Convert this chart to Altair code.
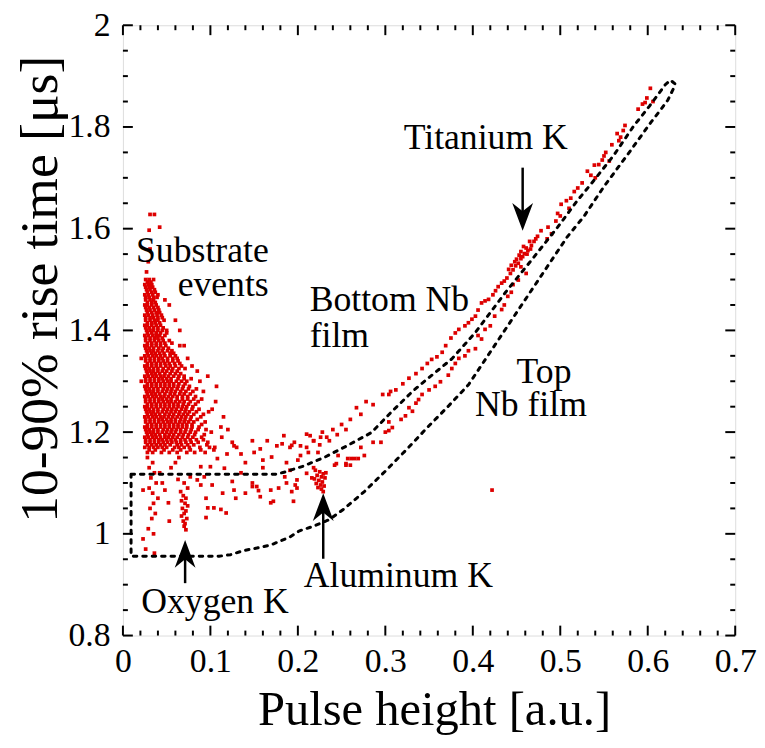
import altair as alt
import pandas as pd

FONT = "Liberation Serif"
RED = "#dd0000"

# ---------------- data ----------------
# dense substrate-event cluster: one row of pulse heights for each rise-time level
sub_rows_y = [1.50, 1.49, 1.48, 1.47, 1.46, 1.45, 1.44, 1.43, 1.42, 1.41, 1.40, 1.39,
              1.38, 1.37, 1.36, 1.35, 1.34, 1.33, 1.32, 1.31, 1.30, 1.29, 1.28, 1.27,
              1.26, 1.25, 1.24, 1.23, 1.22, 1.21, 1.20, 1.19, 1.18, 1.17, 1.16]
sub_rows_x = [
    [0.026, 0.030, 0.035],
    [0.025, 0.029, 0.033],
    [0.027, 0.031, 0.036],
    [0.025, 0.029, 0.034, 0.040],
    [0.026, 0.031, 0.035],
    [0.025, 0.028, 0.033, 0.038],
    [0.027, 0.031, 0.036, 0.041],
    [0.025, 0.029, 0.034, 0.039, 0.044],
    [0.026, 0.031, 0.036, 0.040, 0.047],
    [0.025, 0.028, 0.033, 0.038, 0.043],
    [0.027, 0.031, 0.035, 0.040, 0.045, 0.050],
    [0.025, 0.029, 0.034, 0.038, 0.042, 0.048],
    [0.026, 0.031, 0.036, 0.041, 0.046, 0.053],
    [0.025, 0.028, 0.033, 0.038, 0.043, 0.049, 0.065],
    [0.027, 0.031, 0.035, 0.040, 0.045, 0.051, 0.056],
    [0.025, 0.029, 0.034, 0.038, 0.043, 0.048, 0.054, 0.060],
    [0.026, 0.031, 0.036, 0.041, 0.046, 0.051, 0.057, 0.063],
    [0.025, 0.028, 0.033, 0.038, 0.043, 0.049, 0.054, 0.060, 0.067],
    [0.027, 0.031, 0.035, 0.040, 0.045, 0.050, 0.056, 0.062, 0.085],
    [0.025, 0.029, 0.034, 0.038, 0.043, 0.047, 0.052, 0.058, 0.064, 0.070, 0.097],
    [0.026, 0.031, 0.036, 0.041, 0.046, 0.051, 0.055, 0.061, 0.067, 0.073],
    [0.025, 0.028, 0.033, 0.038, 0.043, 0.048, 0.053, 0.058, 0.063, 0.069, 0.076],
    [0.027, 0.031, 0.035, 0.040, 0.045, 0.050, 0.055, 0.060, 0.066, 0.072, 0.080, 0.092],
    [0.025, 0.029, 0.034, 0.038, 0.043, 0.047, 0.052, 0.057, 0.062, 0.068, 0.074, 0.083],
    [0.026, 0.031, 0.036, 0.041, 0.046, 0.051, 0.055, 0.060, 0.065, 0.070, 0.077, 0.086, 0.106],
    [0.025, 0.028, 0.033, 0.038, 0.043, 0.048, 0.053, 0.058, 0.063, 0.068, 0.073, 0.080],
    [0.027, 0.031, 0.035, 0.040, 0.045, 0.050, 0.055, 0.060, 0.065, 0.071, 0.076, 0.084, 0.098],
    [0.025, 0.029, 0.034, 0.038, 0.043, 0.047, 0.052, 0.057, 0.062, 0.067, 0.072, 0.078, 0.089],
    [0.026, 0.031, 0.036, 0.041, 0.046, 0.051, 0.055, 0.060, 0.065, 0.070, 0.075, 0.081, 0.094],
    [0.025, 0.028, 0.033, 0.038, 0.043, 0.048, 0.053, 0.058, 0.063, 0.068, 0.073, 0.079, 0.087, 0.112],
    [0.027, 0.031, 0.035, 0.040, 0.045, 0.050, 0.055, 0.060, 0.066, 0.071, 0.077, 0.083, 0.101],
    [0.025, 0.029, 0.034, 0.038, 0.043, 0.048, 0.052, 0.057, 0.062, 0.068, 0.074, 0.080, 0.090],
    [0.026, 0.031, 0.036, 0.041, 0.046, 0.051, 0.056, 0.061, 0.066, 0.072, 0.078, 0.086, 0.097],
    [0.025, 0.030, 0.035, 0.040, 0.045, 0.050, 0.059, 0.064, 0.070, 0.076, 0.088, 0.105],
    [0.028, 0.034, 0.044, 0.053, 0.062, 0.073, 0.082, 0.094],
]
# in-between rows of the same cluster
sub_mid_y = [1.495, 1.485, 1.475, 1.465, 1.455, 1.445, 1.435, 1.425, 1.415, 1.405,
             1.395, 1.385, 1.375, 1.365, 1.355, 1.345, 1.335, 1.325, 1.315, 1.305,
             1.295, 1.285, 1.275, 1.265, 1.255, 1.245, 1.235, 1.225, 1.215, 1.205,
             1.195, 1.185, 1.175, 1.165]
sub_mid_x = [
    [0.028, 0.032],
    [0.026, 0.030, 0.034],
    [0.028, 0.033, 0.037],
    [0.026, 0.030, 0.035, 0.039],
    [0.028, 0.033, 0.037],
    [0.026, 0.030, 0.035, 0.040],
    [0.028, 0.033, 0.038, 0.042],
    [0.026, 0.031, 0.035, 0.040, 0.045],
    [0.028, 0.033, 0.037, 0.042],
    [0.026, 0.030, 0.035, 0.040, 0.046],
    [0.028, 0.033, 0.038, 0.043, 0.050],
    [0.026, 0.031, 0.036, 0.040, 0.045],
    [0.028, 0.033, 0.038, 0.043, 0.048, 0.056],
    [0.026, 0.030, 0.035, 0.041, 0.046, 0.052],
    [0.028, 0.033, 0.037, 0.042, 0.047, 0.054, 0.058],
    [0.026, 0.031, 0.036, 0.041, 0.045, 0.051, 0.057, 0.062],
    [0.028, 0.033, 0.038, 0.043, 0.048, 0.053, 0.059, 0.065],
    [0.026, 0.030, 0.035, 0.040, 0.046, 0.052, 0.057, 0.064, 0.071],
    [0.028, 0.033, 0.037, 0.042, 0.048, 0.054, 0.060, 0.066],
    [0.026, 0.031, 0.036, 0.041, 0.045, 0.050, 0.055, 0.063, 0.070, 0.078],
    [0.028, 0.033, 0.038, 0.043, 0.048, 0.053, 0.058, 0.064, 0.071],
    [0.026, 0.030, 0.035, 0.040, 0.046, 0.051, 0.056, 0.062, 0.068, 0.075, 0.084],
    [0.028, 0.033, 0.037, 0.042, 0.048, 0.054, 0.059, 0.065, 0.070, 0.077],
    [0.026, 0.031, 0.036, 0.041, 0.045, 0.050, 0.055, 0.062, 0.068, 0.074, 0.081, 0.090],
    [0.028, 0.033, 0.038, 0.043, 0.048, 0.053, 0.058, 0.063, 0.069, 0.075, 0.083],
    [0.026, 0.030, 0.035, 0.040, 0.046, 0.051, 0.056, 0.061, 0.067, 0.072, 0.079, 0.087],
    [0.028, 0.033, 0.037, 0.042, 0.048, 0.053, 0.058, 0.064, 0.069, 0.074, 0.081, 0.092],
    [0.026, 0.031, 0.036, 0.041, 0.045, 0.050, 0.055, 0.060, 0.066, 0.071, 0.077, 0.085],
    [0.028, 0.033, 0.038, 0.043, 0.048, 0.053, 0.058, 0.063, 0.068, 0.073, 0.079, 0.090],
    [0.026, 0.030, 0.035, 0.040, 0.046, 0.051, 0.056, 0.061, 0.066, 0.072, 0.078, 0.086, 0.095],
    [0.028, 0.033, 0.037, 0.042, 0.048, 0.053, 0.058, 0.064, 0.069, 0.075, 0.082, 0.093],
    [0.026, 0.031, 0.036, 0.041, 0.045, 0.050, 0.055, 0.060, 0.066, 0.071, 0.077, 0.084, 0.092],
    [0.028, 0.033, 0.038, 0.043, 0.048, 0.054, 0.062, 0.067, 0.074, 0.081, 0.096],
    [0.030, 0.037, 0.047, 0.057, 0.066, 0.077, 0.089],
]

# sparse substrate events around the cluster
sub_sparse = [
    (0.031, 1.628), (0.036, 1.628), (0.030, 1.597), (0.042, 1.603), (0.027, 1.515),
    (0.029, 1.535), (0.031, 1.560), (0.048, 1.460), (0.053, 1.450), (0.060, 1.420),
    (0.065, 1.400), (0.070, 1.370), (0.074, 1.345), (0.079, 1.330), (0.088, 1.300),
    (0.107, 1.290), (0.102, 1.245), (0.115, 1.230), (0.120, 1.205), (0.125, 1.180),
    (0.130, 1.170), (0.021, 1.345), (0.021, 1.300),
]

# low-rise-time events (inside the dashed box and the horizontal tail)
low_pts = [
    (0.028, 1.150), (0.034, 1.140), (0.030, 1.130), (0.036, 1.120), (0.032, 1.110),
    (0.038, 1.100), (0.030, 1.090), (0.034, 1.080), (0.040, 1.070), (0.035, 1.060),
    (0.031, 1.050), (0.037, 1.040), (0.033, 1.030), (0.029, 1.010), (0.035, 1.000),
    (0.023, 0.990), (0.026, 0.970), (0.036, 0.962), (0.023, 1.086), (0.042, 1.120),
    (0.045, 1.100), (0.048, 1.086), (0.052, 1.061), (0.053, 1.025), (0.055, 1.130),
    (0.060, 1.140), (0.064, 1.150),
    (0.182, 1.177), (0.193, 1.174), (0.210, 1.170), (0.212, 1.160), (0.203, 1.154),
    (0.218, 1.183), (0.214, 1.193), (0.223, 1.160), (0.226, 1.190), (0.127, 1.173),
    (0.135, 1.157), (0.148, 1.183), (0.150, 1.160), (0.157, 1.167), (0.165, 1.183),
    (0.170, 1.151), (0.176, 1.173), (0.184, 1.193), (0.191, 1.170), (0.196, 1.180),
    (0.203, 1.173), (0.210, 1.196), (0.119, 1.157), (0.108, 1.148), (0.104, 1.165),
    (0.099, 1.170), (0.113, 1.190), (0.140, 1.140), (0.160, 1.145), (0.187, 1.140),
    (0.200, 1.145), (0.242, 1.135), (0.255, 1.138),
    (0.089, 1.132), (0.093, 1.112), (0.100, 1.132), (0.116, 1.129), (0.125, 1.103),
    (0.148, 1.093), (0.155, 1.085), (0.169, 1.086), (0.172, 1.064), (0.185, 1.112),
    (0.187, 1.100), (0.197, 1.096), (0.199, 1.090), (0.085, 1.106), (0.089, 1.096),
    (0.095, 1.070), (0.097, 1.051), (0.095, 1.032), (0.104, 1.051), (0.112, 1.048),
    (0.118, 1.041), (0.114, 1.080), (0.102, 1.096), (0.127, 1.086), (0.129, 1.070),
    (0.140, 1.080), (0.148, 1.100), (0.153, 1.093), (0.157, 1.073), (0.169, 1.061),
    (0.178, 1.090), (0.193, 1.083), (0.199, 1.106), (0.191, 1.125), (0.210, 1.119),
    (0.216, 1.110), (0.195, 1.064), (0.135, 1.120), (0.160, 1.130), (0.422, 1.086),
]

oxygen_pts = [
    (0.069, 1.075), (0.072, 1.070), (0.067, 1.065), (0.071, 1.060), (0.074, 1.055),
    (0.068, 1.050), (0.072, 1.045), (0.070, 1.040), (0.067, 1.035), (0.073, 1.030),
    (0.069, 1.025), (0.071, 1.020), (0.070, 1.015), (0.072, 1.008), (0.066, 1.083),
    (0.074, 1.090), (0.070, 1.100), (0.077, 1.112), (0.063, 1.107),
]

aluminum_pts = [
    (0.220, 1.125), (0.225, 1.122), (0.229, 1.118), (0.222, 1.115), (0.227, 1.112),
    (0.231, 1.110), (0.219, 1.108), (0.224, 1.105), (0.228, 1.102), (0.221, 1.099),
    (0.226, 1.096), (0.230, 1.094), (0.223, 1.091), (0.227, 1.088), (0.229, 1.083),
    (0.218, 1.130), (0.232, 1.120),
]

bottom_nb_pts = [
    (0.603, 1.876), (0.599, 1.857), (0.597, 1.848), (0.606, 1.850), (0.594, 1.845),
    (0.589, 1.835), (0.574, 1.803), (0.572, 1.793), (0.565, 1.787), (0.569, 1.780),
    (0.567, 1.773), (0.559, 1.765), (0.552, 1.750), (0.550, 1.743), (0.548, 1.735),
    (0.556, 1.733), (0.544, 1.726), (0.539, 1.725), (0.531, 1.713), (0.535, 1.705),
    (0.525, 1.690), (0.520, 1.680), (0.516, 1.673), (0.512, 1.660), (0.507, 1.655),
    (0.501, 1.648), (0.497, 1.630), (0.495, 1.615), (0.486, 1.603), (0.478, 1.596),
    (0.474, 1.585), (0.467, 1.567), (0.465, 1.575), (0.463, 1.557), (0.461, 1.562),
    (0.459, 1.551), (0.457, 1.545), (0.455, 1.541), (0.453, 1.548), (0.452, 1.532),
    (0.449, 1.527), (0.446, 1.519), (0.443, 1.512), (0.439, 1.503), (0.436, 1.497),
    (0.433, 1.493), (0.429, 1.486), (0.426, 1.478), (0.423, 1.470), (0.418, 1.461),
    (0.414, 1.458), (0.410, 1.454), (0.406, 1.440), (0.403, 1.428), (0.399, 1.422),
    (0.395, 1.415), (0.391, 1.409), (0.384, 1.402), (0.380, 1.395), (0.375, 1.385),
    (0.369, 1.370), (0.365, 1.357), (0.359, 1.348), (0.353, 1.343), (0.348, 1.335),
    (0.342, 1.325), (0.335, 1.315), (0.327, 1.306), (0.320, 1.295), (0.312, 1.283),
    (0.304, 1.274), (0.297, 1.274), (0.306, 1.280), (0.286, 1.254), (0.278, 1.260),
    (0.267, 1.248), (0.272, 1.235), (0.260, 1.225), (0.250, 1.215), (0.255, 1.205),
    (0.240, 1.205), (0.245, 1.195), (0.233, 1.190), (0.236, 1.183), (0.228, 1.200),
    (0.218, 1.183), (0.225, 1.175), (0.458, 1.565), (0.462, 1.550), (0.466, 1.560),
    (0.455, 1.555), (0.450, 1.540), (0.448, 1.535), (0.444, 1.528), (0.441, 1.520),
    (0.470, 1.575), (0.472, 1.580),
]

top_nb_pts = [
    (0.540, 1.700), (0.510, 1.640), (0.500, 1.625), (0.490, 1.590), (0.485, 1.580),
    (0.461, 1.512), (0.455, 1.525), (0.452, 1.499), (0.446, 1.490), (0.440, 1.467),
    (0.444, 1.475), (0.433, 1.441), (0.436, 1.450), (0.425, 1.428), (0.420, 1.409),
    (0.414, 1.402), (0.410, 1.383), (0.406, 1.390), (0.403, 1.364), (0.395, 1.360),
    (0.391, 1.350), (0.384, 1.345), (0.380, 1.335), (0.376, 1.325), (0.372, 1.312),
    (0.363, 1.299), (0.357, 1.290), (0.350, 1.283), (0.342, 1.274), (0.335, 1.257),
    (0.338, 1.264), (0.331, 1.241), (0.327, 1.248), (0.323, 1.232), (0.318, 1.225),
    (0.308, 1.209), (0.304, 1.203), (0.304, 1.220), (0.300, 1.200), (0.295, 1.180),
    (0.286, 1.180), (0.276, 1.154), (0.272, 1.170), (0.269, 1.148), (0.265, 1.148),
    (0.261, 1.148), (0.257, 1.148), (0.255, 1.135), (0.246, 1.154), (0.244, 1.138),
    (0.260, 1.135),
]

# dashed selection contour (closed loop)
loop_x = [0.0093, 0.174, 0.184, 0.206, 0.231, 0.255, 0.284, 0.306, 0.331, 0.342,
          0.376, 0.403, 0.437, 0.467, 0.497, 0.519, 0.539, 0.561, 0.584, 0.602,
          0.611, 0.620, 0.626, 0.631, 0.629, 0.623, 0.614, 0.604, 0.578, 0.550,
          0.527, 0.508, 0.450, 0.395, 0.372, 0.348, 0.325, 0.301, 0.276, 0.252,
          0.236, 0.218, 0.202, 0.191, 0.169, 0.153, 0.138, 0.123, 0.110, 0.0093,
          0.0093]
loop_y = [1.117, 1.117, 1.121, 1.133, 1.151, 1.172, 1.199, 1.238, 1.280, 1.296,
          1.344, 1.396, 1.474, 1.538, 1.603, 1.654, 1.696, 1.744, 1.802, 1.841,
          1.862, 1.883, 1.892, 1.885, 1.874, 1.853, 1.832, 1.810, 1.748, 1.683,
          1.624, 1.584, 1.435, 1.293, 1.251, 1.209, 1.167, 1.125, 1.083, 1.048,
          1.028, 1.015, 1.006, 0.994, 0.978, 0.972, 0.967, 0.959, 0.956, 0.956,
          1.117]

# axis ticks
x_major = [0.0, 0.1, 0.2, 0.3, 0.4, 0.5, 0.6, 0.7]
x_minor = [0.02, 0.04, 0.06, 0.08, 0.12, 0.14, 0.16, 0.18, 0.22, 0.24, 0.26, 0.28,
           0.32, 0.34, 0.36, 0.38, 0.42, 0.44, 0.46, 0.48, 0.52, 0.54, 0.56, 0.58,
           0.62, 0.64, 0.66, 0.68]
y_major = [0.8, 1.0, 1.2, 1.4, 1.6, 1.8, 2.0]
y_minor = [0.85, 0.9, 0.95, 1.05, 1.1, 1.15, 1.25, 1.3, 1.35, 1.45, 1.5, 1.55,
           1.65, 1.7, 1.75, 1.85, 1.9, 1.95]

# annotations
left_text = ["Bottom Nb", "film", "Top", "Nb film", "Titanium K", "Aluminum K", "Oxygen K"]
left_tx = [0.2135, 0.2135, 0.450, 0.4025, 0.321, 0.2067, 0.021]
left_ty = [1.438, 1.367, 1.296, 1.232, 1.757, 0.895, 0.844]
right_text = ["Substrate", "events"]
right_tx = [0.1667, 0.1667]
right_ty = [1.535, 1.467]

# arrows (x, tail, tip)
up_arrow_x = [0.0711, 0.229]
up_arrow_tail = [0.903, 0.951]
up_arrow_tip = [0.988, 1.080]
down_arrow_x = [0.457]
down_arrow_tail = [1.720]
down_arrow_tip = [1.596]

# ---------------- build ----------------
W, H = 618, 616
xs = alt.Scale(domain=[0, 0.7], nice=False, zero=False)
ys = alt.Scale(domain=[0.8, 2.0], nice=False, zero=False)

pts = []
for yv, row in zip(sub_rows_y, sub_rows_x):
    pts += [(xv, yv) for xv in row]
for yv, row in zip(sub_mid_y, sub_mid_x):
    pts += [(xv, yv) for xv in row]
pts += sub_sparse + low_pts + oxygen_pts + aluminum_pts + bottom_nb_pts + top_nb_pts
pts_df = pd.DataFrame(pts, columns=["x", "y"])

xaxis = alt.Axis(values=x_major, format="~g", ticks=False, domain=False, grid=False,
                 labelFont=FONT, labelFontSize=34, labelColor="black", labelPadding=9,
                 labelFlush=False, labelOverlap=False,
                 title="Pulse height [a.u.]", titleFont=FONT, titleFontSize=49,
                 titleFontWeight="normal", titleColor="black", titleX=314, titleY=90,
                 titleAlign="center", titleBaseline="alphabetic")
yaxis = alt.Axis(values=y_major, format="~g", ticks=False, domain=False, grid=False,
                 labelFont=FONT, labelFontSize=34, labelColor="black", labelPadding=13,
                 labelFlush=False, labelOverlap=False,
                 title="10-90% rise time [μs]", titleFont=FONT, titleFontSize=54,
                 titleFontWeight="normal", titleColor="black", titleAngle=270,
                 titleX=-83, titleY=266, titleAlign="center", titleBaseline="middle")


def X(field):
    return alt.X(field, scale=xs, axis=xaxis)


def Y(field):
    return alt.Y(field, scale=ys, axis=yaxis)


scatter = alt.Chart(pts_df).mark_square(size=14, color=RED, opacity=1).encode(
    x=X("x:Q"), y=Y("y:Q"))

loop_df = pd.DataFrame({"x": loop_x, "y": loop_y, "i": list(range(len(loop_x)))})
loop = alt.Chart(loop_df).mark_line(color="black", strokeWidth=3, strokeDash=[3.5, 6],
                                    strokeCap="round").encode(
    x=X("x:Q"), y=Y("y:Q"), order="i:Q")


def xticks(vals, length, top):
    df = pd.DataFrame({"v": vals})
    y0, y1 = (0, length) if top else (H, H - length)
    return alt.Chart(df).mark_rule(color="black", strokeWidth=2).encode(
        x=X("v:Q"), y=alt.value(y0), y2=alt.value(y1))


def yticks(vals, length, right):
    df = pd.DataFrame({"v": vals})
    x0, x1 = (W, W - length) if right else (0, length)
    return alt.Chart(df).mark_rule(color="black", strokeWidth=2).encode(
        y=Y("v:Q"), x=alt.value(x0), x2=alt.value(x1))


ticks = [xticks(x_major, 10, False), xticks(x_minor, 5, False),
         xticks(x_major, 10, True), xticks(x_minor, 5, True),
         yticks(y_major, 10, False), yticks(y_minor, 5, False),
         yticks(y_major, 10, True), yticks(y_minor, 5, True)]

ltext = alt.Chart(pd.DataFrame({"t": left_text, "x": left_tx, "y": left_ty})).mark_text(
    font=FONT, fontSize=36, color="black", align="left", baseline="alphabetic").encode(
    x=X("x:Q"), y=Y("y:Q"), text="t:N")
rtext = alt.Chart(pd.DataFrame({"t": right_text, "x": right_tx, "y": right_ty})).mark_text(
    font=FONT, fontSize=36, color="black", align="right", baseline="alphabetic").encode(
    x=X("x:Q"), y=Y("y:Q"), text="t:N")

up_df = pd.DataFrame({"x": up_arrow_x, "y": up_arrow_tail, "tip": up_arrow_tip})
up_df["y2"] = [t - 0.02 for t in up_arrow_tip]
down_df = pd.DataFrame({"x": down_arrow_x, "y": down_arrow_tail, "tip": down_arrow_tip})
down_df["y2"] = [t + 0.02 for t in down_arrow_tip]

UP_HEAD = "M0,0 L0.75,2 L0,1.4 L-0.75,2 Z"
DOWN_HEAD = "M0,0 L0.75,-2 L0,-1.4 L-0.75,-2 Z"

arrows = []
for df, head in [(up_df, UP_HEAD), (down_df, DOWN_HEAD)]:
    arrows.append(alt.Chart(df).mark_rule(color="black", strokeWidth=2.5).encode(
        x=X("x:Q"), y=Y("y:Q"), y2="y2:Q"))
    arrows.append(alt.Chart(df).mark_point(shape=head, size=784, filled=True, color="black",
                                           opacity=1, strokeWidth=0).encode(
        x=X("x:Q"), y=Y("tip:Q")))

chart = alt.layer(scatter, loop, *ticks, ltext, rtext, *arrows).properties(
    width=W, height=H,
    autosize=alt.AutoSizeParams(type="none"),
    padding={"left": 116, "top": 14, "right": 22, "bottom": 100},
).configure_view(stroke="black", strokeWidth=2).configure(background="white")

chart.save("out.html", embed_options={"renderer": "svg", "actions": False})
